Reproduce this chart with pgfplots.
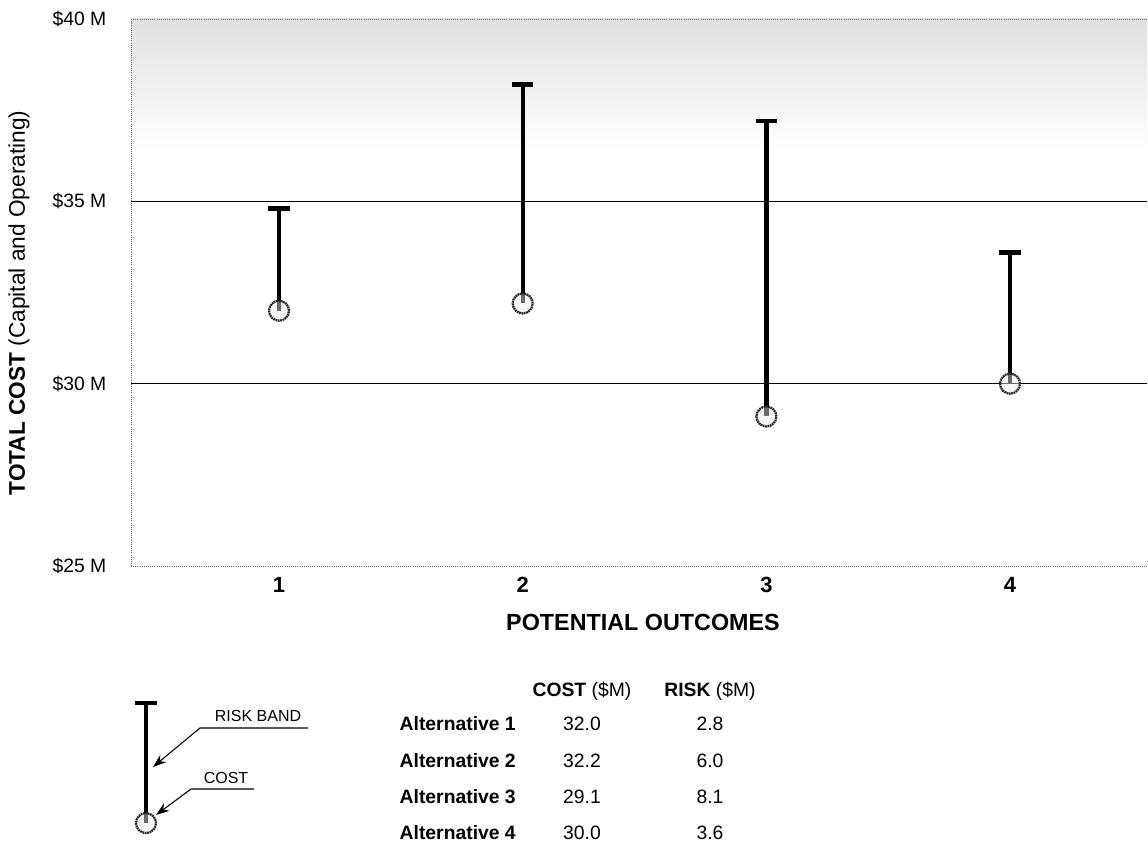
\documentclass[border=0pt]{standalone}
\usepackage{fontspec}
\setmainfont{Liberation Sans}
\usepackage{pgfplots}
\usepackage{pgfplotstable}
\pgfplotsset{compat=1.18}
\usetikzlibrary{arrows.meta}

% cost and risk band of each alternative ($M)
\pgfplotstableread{
x cost risk
1 32.0 2.8
2 32.2 6.0
3 29.1 8.1
4 30.0 3.6
}\costdata

% the key drawn under the chart
\pgfplotstableread{
x cost risk
0.454 17.95 3.29
}\keydata

\begin{document}
\begin{tikzpicture}
\pgfplotsset{every non boxed x axis/.append style={x axis line style=-},
     every non boxed y axis/.append style={y axis line style=-},
     costmark/.style={only marks, mark=*, mark size=7.5pt,
       mark options={draw=black!85, fill=black!8, fill opacity=0.45, line width=1.7pt, dash pattern=on 1.3pt off 0.5pt}},
     riskbar/.style={draw=none, mark=none,
       error bars/.cd, y dir=plus, y explicit,
       error bar style={line width=3.2pt, black},
       error mark=|, error mark options={line width=3.4pt, mark size=8pt, black}}}
\begin{axis}[
  scale only axis,
  width=762pt, height=410.25pt,
  xmin=0.3926, xmax=4.562,
  ymin=25, ymax=40,
  axis on top,
  axis x line*=bottom, axis y line*=left,
  axis line style={black!60, densely dotted, line width=0.6pt},
  xtick={1,2,3,4},
  xticklabels={1,2,3,4},
  ytick={25,30,35,40},
  yticklabels={\$25 M,\$30 M,\$35 M,\$40 M},
  major tick length=0pt,
  tick style={draw=none},
  yticklabel style={font=\fontsize{14.5}{16}\selectfont, xshift=-15pt},
  xticklabel style={font=\bfseries\fontsize{16.5}{18}\selectfont, yshift=-5pt},
  clip=false,
]
\fill[top color=black!12, bottom color=white] (rel axis cs:0,0.76) rectangle (rel axis cs:1,1);
\draw[black!60, densely dotted, line width=0.6pt] (rel axis cs:0,1) -- (rel axis cs:1,1);
\draw[black, line width=0.9pt] (axis cs:0.3926,35) -- (axis cs:4.562,35);
\draw[black, line width=0.9pt] (axis cs:0.3926,30) -- (axis cs:4.562,30);

\addplot[riskbar] table[x=x, y=cost, y error=risk] {\costdata};
\addplot[costmark] table[x=x, y=cost] {\costdata};

\addplot[riskbar] table[x=x, y=cost, y error=risk] {\keydata};
\addplot[costmark] table[x=x, y=cost] {\keydata};
\end{axis}

% labels, key and table, in pixel units of the reference
\begin{scope}[x=0.75pt, y=-0.75pt, shift={(-98.25pt,424.5pt)}]
\node[rotate=90] at (19,303) {\fontsize{17}{20}\selectfont\textbf{TOTAL COST} (Capital and Operating)};
\node at (643,622) {\bfseries\fontsize{17.5}{20}\selectfont POTENTIAL OUTCOMES};

\draw[-{Stealth[length=10pt,width=7pt]}, line width=0.8pt] (308,728) -- (200,728) -- (153,767);
\node[anchor=base, font=\fontsize{12}{14}\selectfont] at (258,722) {RISK BAND};
\draw[-{Stealth[length=10pt,width=7pt]}, line width=0.8pt] (254,789) -- (191,789) -- (156,815);
\node[anchor=base, font=\fontsize{12}{14}\selectfont] at (226,783) {COST};

\begin{scope}[font=\fontsize{14.5}{16}\selectfont]
\node[anchor=base] at (582,697) {\textbf{COST} (\$M)};
\node[anchor=base] at (710,697) {\textbf{RISK} (\$M)};
\node[anchor=base west] at (395,731) {\textbf{Alternative 1}};
\node[anchor=base west] at (395,767) {\textbf{Alternative 2}};
\node[anchor=base west] at (395,803) {\textbf{Alternative 3}};
\node[anchor=base west] at (395,839) {\textbf{Alternative 4}};
\node[anchor=base] at (582,731) {32.0};
\node[anchor=base] at (582,767) {32.2};
\node[anchor=base] at (582,803) {29.1};
\node[anchor=base] at (582,839) {30.0};
\node[anchor=base] at (710,731) {2.8};
\node[anchor=base] at (710,767) {6.0};
\node[anchor=base] at (710,803) {8.1};
\node[anchor=base] at (710,839) {3.6};
\end{scope}
\end{scope}

\pgfresetboundingbox
\begin{scope}[x=0.75pt, y=-0.75pt, shift={(-98.25pt,424.5pt)}]
\path (0,0) rectangle (1148,841);
\end{scope}
\end{tikzpicture}
\end{document}
